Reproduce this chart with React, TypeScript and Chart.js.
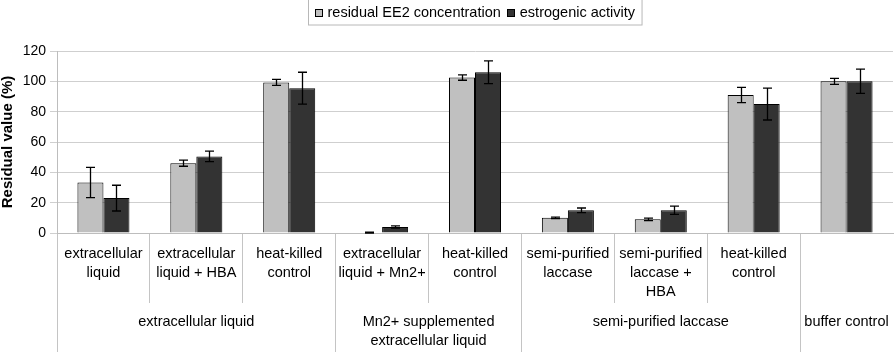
import React, { useEffect, useRef } from "react";
import { Chart, registerables } from "chart.js";

Chart.register(...registerables);

const categories: string[][] = [
  ["extracellular", "liquid"],
  ["extracellular", "liquid + HBA"],
  ["heat-killed", "control"],
  ["extracellular", "liquid + Mn2+"],
  ["heat-killed", "control"],
  ["semi-purified", "laccase"],
  ["semi-purified", "laccase +", "HBA"],
  ["heat-killed", "control"],
  [""],
];

const groupLabels: string[][] = [
  ["extracellular liquid"],
  ["Mn2+ supplemented", "extracellular liquid"],
  ["semi-purified laccase"],
  ["buffer control"],
];
const groupSpans: number[] = [3, 2, 3, 1];

const seriesNames = ["residual EE2 concentration", "estrogenic activity"];
const residualEE2 = [33.3, 46, 99.3, 0.3, 102.5, 10, 9, 91, 100];
const residualEE2Err = [10, 2, 2, 0.3, 1.8, 0.5, 0.8, 5, 2];
const estrogenic = [23, 50.5, 95.5, 4, 106, 15, 15, 85, 100];
const estrogenicErr = [8.5, 3.5, 10.5, 0.7, 7.5, 1.5, 2.7, 10.5, 8];

const yTicks = [0, 20, 40, 60, 80, 100, 120];

const FONT = '"Liberation Sans", Arial, sans-serif';
const LIGHT = "#c0c0c0";
const DARK = "#333333";
const GRID = "#cfcfcf";
const SEP = "#c4c4c4";

const errors = [residualEE2Err, estrogenicErr];

const errorBarPlugin = {
  id: "errorBars",
  afterDatasetsDraw(chart: any) {
    const ctx = chart.ctx;
    const ys = chart.scales.y;
    ctx.save();
    ctx.strokeStyle = "#000";
    ctx.lineWidth = 1.3;
    chart.data.datasets.forEach((ds: any, d: number) => {
      const meta = chart.getDatasetMeta(d);
      meta.data.forEach((bar: any, i: number) => {
        const v = ds.data[i];
        const e = errors[d][i];
        const x = Math.round(bar.x) + 0.5;
        const yt = ys.getPixelForValue(v + e);
        const yb = ys.getPixelForValue(Math.max(0, v - e));
        const cap = 4.5;
        ctx.beginPath();
        ctx.moveTo(x, yt);
        ctx.lineTo(x, yb);
        ctx.moveTo(x - cap, yt);
        ctx.lineTo(x + cap, yt);
        ctx.moveTo(x - cap, yb);
        ctx.lineTo(x + cap, yb);
        ctx.stroke();
      });
    });
    ctx.restore();
  },
};

const groupPlugin = {
  id: "groups",
  afterDraw(chart: any) {
    const ctx = chart.ctx;
    const xs = chart.scales.x;
    const half = (xs.getPixelForValue(1) - xs.getPixelForValue(0)) / 2;
    ctx.save();
    ctx.strokeStyle = SEP;
    ctx.lineWidth = 1;
    let start = 0;
    ctx.font = `14.5px ${FONT}`;
    ctx.fillStyle = "#000";
    ctx.textAlign = "center";
    ctx.textBaseline = "middle";
    const tickEnd = xs.top + 70;
    groupSpans.forEach((span, g) => {
      const x0 = xs.getPixelForValue(start) - half;
      const x1 = xs.getPixelForValue(start + span - 1) + half;
      if (start < categories.length) {
        const lx = Math.round(x0 - 0.5) + 0.5;
        ctx.beginPath();
        ctx.moveTo(lx, tickEnd);
        ctx.lineTo(lx, chart.height);
        ctx.stroke();
      }
      const cx = (x0 + x1) / 2;
      groupLabels[g].forEach((line, k) => {
        ctx.fillText(line, cx, xs.top + 89 + k * 18.5);
      });
      start += span;
    });
    ctx.restore();
  },
};

const legendPlugin = {
  id: "boxLegend",
  afterDraw(chart: any) {
    const ctx = chart.ctx;
    const area = chart.chartArea;
    ctx.save();
    ctx.font = `14.5px ${FONT}`;
    const padL = 6;
    const marker = 8;
    const gap = 5;
    const itemGap = 6;
    const padR = 7;
    const widths = seriesNames.map((s) => ctx.measureText(s).width);
    let total = padL + padR;
    widths.forEach((w, i) => {
      total += marker + gap + w + (i < widths.length - 1 ? itemGap : 0);
    });
    const cx = (area.left + area.right) / 2;
    const left = Math.round(cx - total / 2) + 0.5;
    ctx.strokeStyle = "#b8b8b8";
    ctx.lineWidth = 1;
    ctx.strokeRect(left, -0.5, total, 25.5);
    let x = left + padL;
    const colors = [LIGHT, DARK];
    ctx.textBaseline = "middle";
    ctx.textAlign = "left";
    seriesNames.forEach((s, i) => {
      ctx.fillStyle = colors[i];
      ctx.fillRect(Math.round(x), 9, marker, marker);
      ctx.strokeStyle = "#000";
      ctx.strokeRect(Math.round(x) + 0.5, 9.5, marker - 1, marker - 1);
      x += marker + gap;
      ctx.fillStyle = "#000";
      ctx.fillText(s, x, 13);
      x += widths[i] + itemGap;
    });
    ctx.restore();
  },
};

export default function App() {
  const ref = useRef<HTMLCanvasElement>(null);
  useEffect(() => {
    document.body.style.margin = "0";
    Chart.defaults.font.family = FONT;
    const chart = new Chart(ref.current as HTMLCanvasElement, {
      type: "bar",
      data: {
        labels: categories,
        datasets: [
          {
            label: seriesNames[0],
            data: residualEE2,
            backgroundColor: LIGHT,
            borderColor: "#000",
            borderWidth: 1,
            barPercentage: 1,
            categoryPercentage: 0.56,
          },
          {
            label: seriesNames[1],
            data: estrogenic,
            backgroundColor: DARK,
            borderColor: "#000",
            borderWidth: 1,
            barPercentage: 1,
            categoryPercentage: 0.56,
          },
        ],
      },
      options: {
        animation: false,
        responsive: false,
        layout: { padding: { top: 51, left: 0, right: 1, bottom: 0 } },
        plugins: {
          legend: { display: false },
          tooltip: { enabled: false },
        },
        scales: {
          x: {
            type: "category",
            afterFit: (s: any) => {
              s.height = 119;
            },
            grid: {
              display: true,
              offset: true,
              drawOnChartArea: false,
              drawTicks: true,
              tickLength: 70,
              color: (c: any) => (c.type === "tick" ? SEP : "rgba(0,0,0,0)"),
            },
            border: { display: true, color: "#bdbdbd" },
            ticks: {
              autoSkip: false,
              maxRotation: 0,
              minRotation: 0,
              padding: -58.5,
              color: "#000",
              font: { size: 14.5, lineHeight: 1.3 },
            },
          },
          y: {
            min: 0,
            max: 120,
            afterFit: (s: any) => {
              s.width = 57;
            },
            afterBuildTicks: (s: any) => {
              s.ticks = yTicks.map((v) => ({ value: v }));
            },
            grid: { color: GRID, tickLength: 7 },
            border: { display: true, color: "#bdbdbd" },
            ticks: {
              color: "#000",
              padding: 4,
              font: { size: 14 },
            },
            title: {
              display: true,
              text: "Residual value (%)",
              color: "#000",
              font: { size: 15, weight: "bold", lineHeight: 1.1 },
              padding: { top: 0, bottom: 0 },
            },
          },
        },
      },
      plugins: [errorBarPlugin, groupPlugin, legendPlugin],
    } as any);
    return () => chart.destroy();
  }, []);
  return (
    <div style={{ width: 894, height: 352 }}>
      <canvas ref={ref} width={894} height={352} />
    </div>
  );
}
